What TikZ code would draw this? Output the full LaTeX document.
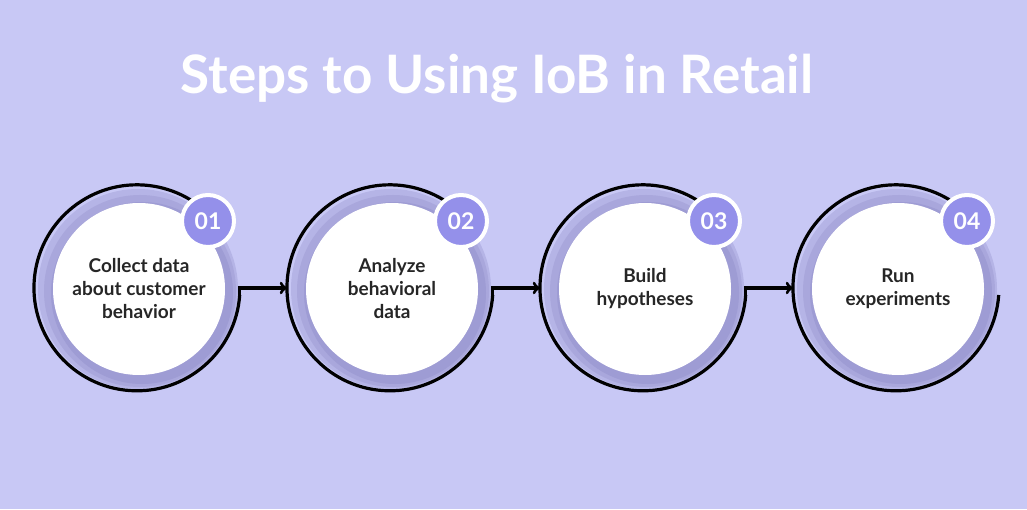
\documentclass[tikz,border=0pt]{standalone}
\usepackage{fontspec}
\setmainfont{Lato}
\usetikzlibrary{arrows,positioning,calc}
\definecolor{bgcol}{RGB}{200,200,245}
\definecolor{shadecol}{RGB}{158,156,212}
\definecolor{badgecol}{RGB}{148,144,234}
\tikzset{
  ringspot/.style={circle, minimum size=206pt, inner sep=0pt, outer sep=0pt},
  stepdisc/.style={circle, fill=white, minimum size=172pt, inner sep=0pt, align=center,
                font=\fontsize{19pt}{23pt}\selectfont\bfseries, text=black!85},
  stepbadge/.style={circle, fill=badgecol, draw=white, line width=4pt, minimum size=52pt,
                inner sep=0pt, text=white, font=\fontsize{23pt}{26pt}\selectfont\bfseries},
}
\begin{document}
\begin{tikzpicture}[x=1pt,y=1pt,>=to]
  \fill[bgcol] (0,0) rectangle (1027,509);
  \useasboundingbox (0,0) rectangle (1027,509);

  \node[text=white, font=\fontsize{53pt}{58pt}\selectfont\bfseries] (title) at (497,430)
    {Steps to Using IoB in Retail};

  \foreach \i/\txt in {1/{Collect data\\about customer\\behavior},
                       2/{Analyze\\behavioral\\data},
                       3/{Build\\hypotheses},
                       4/{Run\\experiments}}
  {
    \node[ringspot] (o\i) at ({137+253*(\i-1)},221) {};
    \fill[shadecol!45!bgcol] ($(o\i.center)+(1,-1)$) circle (100pt);
    \fill[shadecol!75!bgcol] ($(o\i.center)+(3,-3)$) circle (96pt);
    \fill[shadecol] ($(o\i.center)+(5,-5)$) circle (91pt);
    \node[stepdisc] (c\i) at ($(o\i.center)+(2,-1)$) {\txt};
  }

  % rings and badges
  \foreach \i [evaluate=\i as \xend using 137+253*(\i-1)+102.7] in {1,...,4}
  {
    \draw[black, line width=3.2pt] (\xend,214) arc[start angle=-4, end angle=-317, radius=103pt];
    \node[stepbadge] (b\i) at ($(o\i.center)+(71,67)$) {0\i};
  }

  % connectors
  \foreach \i/\j in {1/2,2/3,3/4}
    \draw[black, line width=3.2pt, ->] (o\i.-4) |- (o\j.west);
\end{tikzpicture}
\end{document}
